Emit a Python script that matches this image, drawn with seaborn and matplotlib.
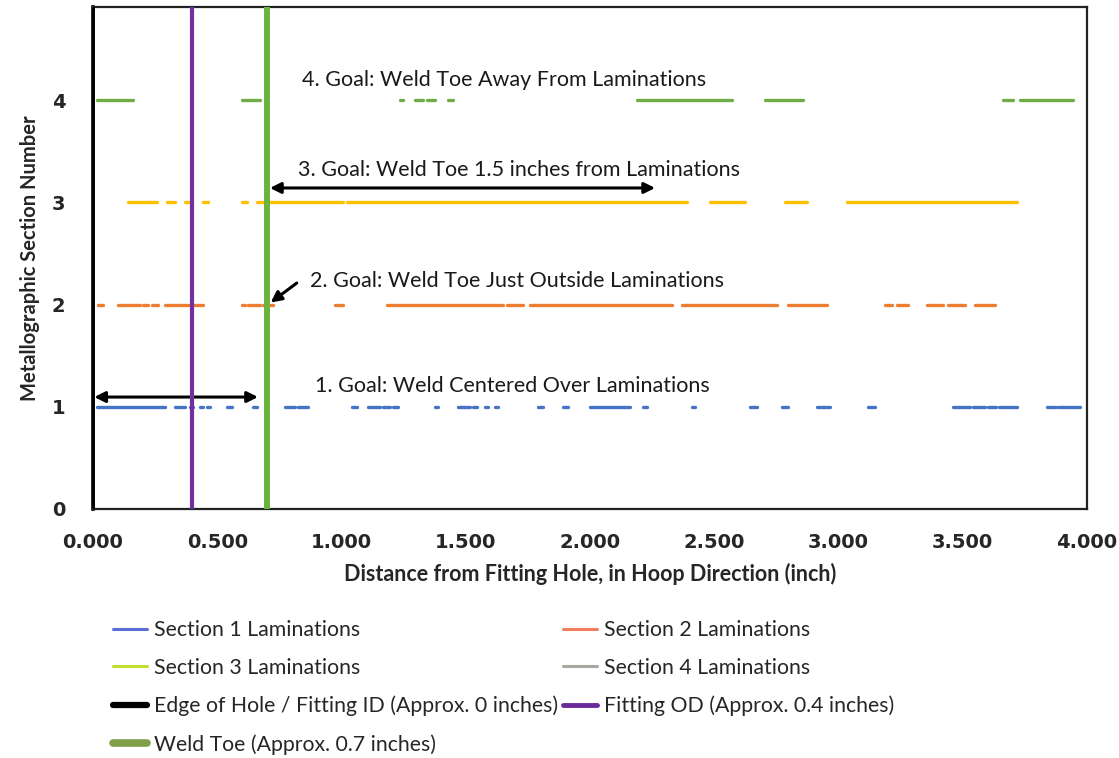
import numpy as np
import pandas as pd
import matplotlib
matplotlib.use("Agg")
import matplotlib.pyplot as plt
from matplotlib.lines import Line2D
import seaborn as sns

# ---- data: lamination segments (start, end) in inches, per section ----
sec1_start = [0.016, 0.262, 0.330, 0.390, 0.431, 0.459, 0.539, 0.644, 0.773, 0.825,
              1.042, 1.107, 1.167, 1.207, 1.376, 1.469, 1.529, 1.577, 1.618, 1.791,
              1.891, 2.000, 2.213, 2.410, 2.644, 2.773, 2.913, 3.119, 3.461, 3.541,
              3.602, 3.646, 3.839, 3.883]
sec1_end = [0.258, 0.290, 0.370, 0.402, 0.443, 0.471, 0.559, 0.660, 0.813, 0.865,
            1.062, 1.155, 1.195, 1.227, 1.388, 1.517, 1.545, 1.590, 1.630, 1.811,
            1.911, 2.161, 2.229, 2.423, 2.672, 2.797, 2.966, 3.147, 3.529, 3.590,
            3.634, 3.718, 3.875, 3.972]
sec2_start = [0.020, 0.101, 0.201, 0.237, 0.290, 0.390, 0.600, 0.624, 0.684, 0.974,
              1.183, 1.666, 1.759, 2.370, 2.797, 3.187, 3.235, 3.356, 3.441, 3.549]
sec2_end = [0.040, 0.189, 0.221, 0.262, 0.382, 0.443, 0.612, 0.672, 0.724, 1.006,
            1.650, 1.730, 2.330, 2.753, 2.954, 3.215, 3.280, 3.421, 3.509, 3.630]
sec3_start = [0.141, 0.298, 0.370, 0.443, 0.600, 0.660, 1.022, 2.483, 2.785, 3.034]
sec3_end = [0.258, 0.330, 0.390, 0.463, 0.620, 1.006, 2.390, 2.624, 2.873, 3.718]
sec4_start = [0.016, 0.600, 1.235, 1.296, 1.344, 1.429, 2.189, 2.704, 3.662, 3.730]
sec4_end = [0.161, 0.672, 1.248, 1.328, 1.376, 1.449, 2.571, 2.857, 3.702, 3.944]

section_numbers = [1, 2, 3, 4]
section_labels = ["Section 1 Laminations", "Section 2 Laminations",
                  "Section 3 Laminations", "Section 4 Laminations"]
hole_edge = 0.0
fitting_od = 0.40
weld_toe = 0.70
x_ticks = [0.0, 0.5, 1.0, 1.5, 2.0, 2.5, 3.0, 3.5, 4.0]
y_ticks = [0, 1, 2, 3, 4]
goal_texts = ["1. Goal: Weld Centered Over Laminations",
              "2. Goal: Weld Toe Just Outside Laminations",
              "3. Goal: Weld Toe 1.5 inches from Laminations",
              "4. Goal: Weld Toe Away From Laminations"]

# ---- build long-form table ----
rows = []
seg_id = 0
for num, lab, st, en in zip(section_numbers, section_labels,
                            [sec1_start, sec2_start, sec3_start, sec4_start],
                            [sec1_end, sec2_end, sec3_end, sec4_end]):
    for a, b in zip(st, en):
        rows.append({"x": a, "y": num, "section": lab, "seg": seg_id})
        rows.append({"x": b, "y": num, "section": lab, "seg": seg_id})
        seg_id += 1
df = pd.DataFrame(rows)

sns.set_theme(style="white")
plt.rcParams["font.family"] = ["Lato", "DejaVu Sans"]

fig = plt.figure(figsize=(11.19, 7.58), dpi=100)
ax = fig.add_axes([93 / 1119, 1 - 509 / 758, (1087 - 93) / 1119, (509 - 7) / 758])

line_colors = {"Section 1 Laminations": "#4472c4", "Section 2 Laminations": "#ed7d31",
               "Section 3 Laminations": "#ffc000", "Section 4 Laminations": "#70ad47"}
sns.lineplot(data=df, x="x", y="y", hue="section", units="seg", estimator=None,
             sort=False, palette=line_colors, linewidth=2.4, legend=False, ax=ax)

ax.axvline(hole_edge, color="black", lw=2.6, zorder=4)
ax.axvline(fitting_od, color="#7030a0", lw=3.0, zorder=4)
ax.axvline(weld_toe, color="#6ab33e", lw=4.3, zorder=4)

tick_font = dict(family=["DejaVu Sans"], fontweight="bold", fontsize=14)
ax.set_xlim(0, 4.0)
ax.set_ylim(0, 4.91)
ax.set_xticks(x_ticks)
ax.set_xticklabels([f"{v:.3f}" for v in x_ticks], **tick_font)
ax.set_yticks(y_ticks)
ax.set_yticklabels([str(v) for v in y_ticks], **tick_font)
ax.tick_params(axis="both", length=0)
ax.tick_params(axis="x", pad=17)
ax.tick_params(axis="y", pad=20)
ax.set_xlabel("Distance from Fitting Hole, in Hoop Direction (inch)",
              fontweight="bold", fontsize=15.5, labelpad=8)
ax.set_ylabel("Metallographic Section Number", fontweight="bold", fontsize=14.5,
              labelpad=8)
for s in ax.spines.values():
    s.set_color("#222222")
    s.set_linewidth(1.6)
ax.spines["left"].set_color("black")
ax.spines["left"].set_linewidth(2.6)

# annotations
fs = 15.5
tc = "#1a1a1a"
ax.text(0.893, 1.20, goal_texts[0], fontsize=fs, va="center", ha="left", color=tc)
ax.text(0.873, 2.23, goal_texts[1], fontsize=fs, va="center", ha="left", color=tc)
ax.text(0.825, 3.32, goal_texts[2], fontsize=fs, va="center", ha="left", color=tc)
ax.text(0.840, 4.20, goal_texts[3], fontsize=fs, va="center", ha="left", color=tc)

arw = dict(arrowstyle="<|-|>", color="black", lw=2.2, mutation_scale=16,
           shrinkA=0, shrinkB=0)
ax.annotate("", xy=(0.005, 1.095), xytext=(0.664, 1.095), arrowprops=arw)
ax.annotate("", xy=(0.712, 3.14), xytext=(2.262, 3.14), arrowprops=arw)
ax.annotate("", xy=(0.715, 2.02), xytext=(0.82, 2.21),
            arrowprops=dict(arrowstyle="-|>", color="black", lw=2.2,
                            mutation_scale=16, shrinkA=0, shrinkB=0))

# legend
h_s1 = Line2D([], [], color="#5a6fd6", lw=2.2)
h_s2 = Line2D([], [], color="#f07f5e", lw=2.2)
h_s3 = Line2D([], [], color="#c4dc2c", lw=2.2)
h_s4 = Line2D([], [], color="#a8a8a0", lw=2.2)
h_edge = Line2D([], [], color="black", lw=4.5)
h_od = Line2D([], [], color="#6a2b9a", lw=3.5)
h_weld = Line2D([], [], color="#7ea04a", lw=5.5)
handles = [h_s1, h_s3, h_edge, h_weld, h_s2, h_s4, h_od]
labels = [section_labels[0], section_labels[2], "Edge of Hole / Fitting ID (Approx. 0 inches)",
          "Weld Toe (Approx. 0.7 inches)", section_labels[1], section_labels[3],
          "Fitting OD (Approx. 0.4 inches)"]
fig.legend(handles, labels, ncol=2, loc="upper left",
           bbox_to_anchor=(113 / 1119, 1 - 620 / 758), frameon=False,
           fontsize=15.3, handlelength=1.6, handletextpad=0.35,
           columnspacing=0.2, labelspacing=0.84, borderaxespad=0, borderpad=0)

fig.savefig("out.png", dpi=100)
